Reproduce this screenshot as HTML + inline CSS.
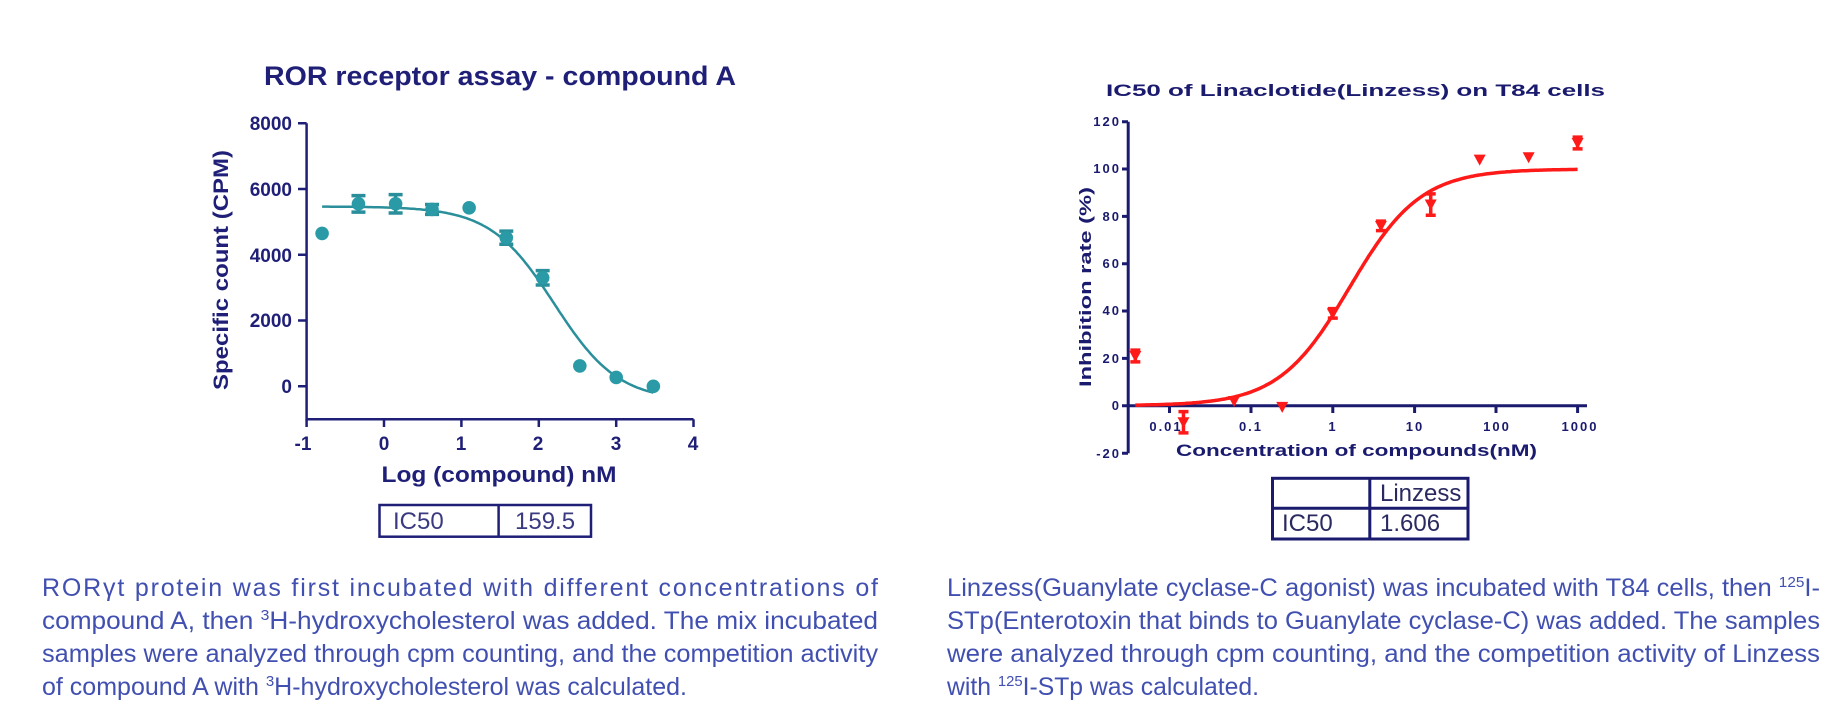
<!DOCTYPE html>
<html><head><meta charset="utf-8"><style>
html,body{margin:0;padding:0;background:#fff;}
svg{display:block;}
</style></head><body>
<svg id="s" width="1839" height="728" xmlns="http://www.w3.org/2000/svg" font-family="Liberation Sans, Arial, sans-serif">
<!-- LEFT CHART -->
<g fill="#1f1f78" font-weight="bold">
<text x="500" y="85" font-size="27" text-anchor="middle" textLength="472" lengthAdjust="spacingAndGlyphs">ROR receptor assay - compound A</text>
<g font-size="19" text-anchor="end">
<text x="292" y="130">8000</text>
<text x="292" y="196">6000</text>
<text x="292" y="262">4000</text>
<text x="292" y="327">2000</text>
<text x="292" y="393">0</text>
</g>
<g font-size="19" text-anchor="middle">
<text x="303" y="450">-1</text>
<text x="384" y="450">0</text>
<text x="461" y="450">1</text>
<text x="538" y="450">2</text>
<text x="616" y="450">3</text>
<text x="693" y="450">4</text>
</g>
<text transform="translate(228,270) rotate(-90)" font-size="21" text-anchor="middle" textLength="240" lengthAdjust="spacingAndGlyphs">Specific count (CPM)</text>
<text x="499" y="482" font-size="22" text-anchor="middle" textLength="235" lengthAdjust="spacingAndGlyphs">Log (compound) nM</text>
</g>
<g stroke="#1f1f78" stroke-width="2.5" fill="none">
<path d="M306.6,123.3 V419.3 H693.5"/>
<path d="M298,123.3 H306.6 M298,189 H306.6 M298,254.8 H306.6 M298,320.5 H306.6 M298,386.3 H306.6"/>
<path d="M306.6,419.3 V427 M384,419.3 V427 M461.4,419.3 V427 M538.8,419.3 V427 M616.2,419.3 V427 M693.5,419.3 V427"/>
<rect x="379.5" y="505" width="211.5" height="31.7"/>
<path d="M498.6,505 V536.7"/>
</g>
<g fill="#3a3a80" font-size="24">
<text x="393" y="529">IC50</text>
<text x="515" y="529">159.5</text>
</g>
<path id="lc" fill="none" stroke="#2a8f9a" stroke-width="2.5"/>
<g id="lp" fill="#2a9ba6" stroke="#2a8f9a"></g>

<!-- RIGHT CHART -->
<g fill="#1a1a6e" font-weight="bold">
<text x="1106" y="96" font-size="17" textLength="499" lengthAdjust="spacingAndGlyphs">IC50  of Linaclotide(Linzess) on T84 cells</text>
<g font-size="13" text-anchor="end" letter-spacing="2">
<text x="1121" y="126">120</text>
<text x="1121" y="173">100</text>
<text x="1121" y="221">80</text>
<text x="1121" y="268">60</text>
<text x="1121" y="315">40</text>
<text x="1121" y="363">20</text>
<text x="1121" y="410">0</text>
<text x="1121" y="458">-20</text>
</g>
<g font-size="13" text-anchor="middle" letter-spacing="2">
<text x="1166" y="431">0.01</text>
<text x="1251" y="431">0.1</text>
<text x="1333" y="431">1</text>
<text x="1415" y="431">10</text>
<text x="1497" y="431">100</text>
<text x="1580" y="431">1000</text>
</g>
<text transform="translate(1091,287) rotate(-90)" font-size="17" text-anchor="middle" textLength="200" lengthAdjust="spacingAndGlyphs">Inhibition rate (%)</text>
<text x="1176" y="456" font-size="17" textLength="361" lengthAdjust="spacingAndGlyphs">Concentration of compounds(nM)</text>
</g>
<g stroke="#1a1a6e" stroke-width="3" fill="none">
<path d="M1128.2,121.7 V453.3"/>
<path d="M1128.2,405.7 H1587"/>
<path d="M1122,121.7 H1128 M1122,169 H1128 M1122,216.4 H1128 M1122,263.7 H1128 M1122,311 H1128 M1122,358.4 H1128 M1122,405.7 H1128 M1122,453.3 H1128"/>
<path d="M1169.5,405.7 V413 M1251,405.7 V413 M1332.8,405.7 V413 M1414.6,405.7 V413 M1496,405.7 V413 M1577.6,405.7 V413"/>
<rect x="1272.5" y="478.3" width="195.5" height="60.7"/>
<path d="M1369.8,478.3 V539 M1272.5,508.3 H1468"/>
</g>
<g fill="#2a2a60" font-size="24">
<text x="1380" y="501">Linzess</text>
<text x="1282" y="531">IC50</text>
<text x="1380" y="531">1.606</text>
</g>
<path id="rc" fill="none" stroke="#ff1a1a" stroke-width="3.5"/>
<g id="rp" fill="#ff1a1a" stroke="#ff1a1a"></g>

<!-- PARAGRAPHS -->
<g fill="#4150b0" font-size="25">
<text x="42" y="596" textLength="836" lengthAdjust="spacing">RORγt protein was first incubated with different concentrations of</text>
<text x="42" y="629" textLength="836" lengthAdjust="spacingAndGlyphs">compound A, then <tspan font-size="15" dy="-9">3</tspan><tspan dy="9">H-hydroxycholesterol was added. The mix incubated</tspan></text>
<text x="42" y="662" textLength="836" lengthAdjust="spacingAndGlyphs">samples were analyzed through cpm counting, and the competition activity</text>
<text x="42" y="695" textLength="645" lengthAdjust="spacingAndGlyphs">of compound A with <tspan font-size="15" dy="-9">3</tspan><tspan dy="9">H-hydroxycholesterol was calculated.</tspan></text>
<text x="947" y="596" textLength="873" lengthAdjust="spacingAndGlyphs">Linzess(Guanylate cyclase-C agonist) was incubated with T84 cells, then <tspan font-size="15" dy="-9">125</tspan><tspan dy="9">I-</tspan></text>
<text x="947" y="629" textLength="873" lengthAdjust="spacingAndGlyphs">STp(Enterotoxin that binds to Guanylate cyclase-C) was added. The samples</text>
<text x="947" y="662" textLength="873" lengthAdjust="spacingAndGlyphs">were analyzed through cpm counting, and the competition activity of Linzess</text>
<text x="947" y="695" textLength="312" lengthAdjust="spacingAndGlyphs">with <tspan font-size="15" dy="-9">125</tspan><tspan dy="9">I-STp was calculated.</tspan></text>
</g>
</svg>
<script>
(function(){
var NS="http://www.w3.org/2000/svg";
function el(p,t,a){var e=document.createElementNS(NS,t);for(var k in a)e.setAttribute(k,a[k]);p.appendChild(e);return e;}
function lx(v){return 306.6+(v+1)*77.4;}
function ly(v){return 386.3-v*65.75/2000;}
var d="";
for(var i=0;i<=200;i++){var x=-0.8+(3.48+0.8)*i/200;var y=-450+5920/(1+Math.pow(10,(x-2.2)*1.05));d+=(i?"L":"M")+lx(x).toFixed(1)+","+ly(y).toFixed(1);}
document.getElementById("lc").setAttribute("d",d);
var lp=document.getElementById("lp");
var L=[[-0.8,4650,0],[-0.33,5550,250],[0.15,5550,280],[0.62,5380,150],[1.1,5430,0],[1.58,4520,200],[2.05,3300,220],[2.53,620,0],[3.0,270,0],[3.48,0,0]];
L.forEach(function(p){var cx=lx(p[0]),cy=ly(p[1]);
 if(p[2]){var t=ly(p[1]+p[2]),b=ly(p[1]-p[2]);el(lp,"path",{d:"M"+cx+","+t+"V"+b+"M"+(cx-7)+","+t+"H"+(cx+7)+"M"+(cx-7)+","+b+"H"+(cx+7),"stroke-width":"3.5",fill:"none"});}
 el(lp,"circle",{cx:cx,cy:cy,r:6.8,"stroke-width":"0"});});
function rx(v){return 1332.8+v*81.6;}
function ry(v){return 405.7-v*47.33/20;}
d="";
for(var i=0;i<=250;i++){var x=-2.42+(3+2.42)*i/250;var y=100/(1+Math.pow(10,(0.206-x)));d+=(i?"L":"M")+rx(x).toFixed(1)+","+ry(y).toFixed(1);}
document.getElementById("rc").setAttribute("d",d);
var rp=document.getElementById("rp");
var R=[[-2.42,21,2.5],[-1.83,-7,4.5],[-1.21,2,0],[-0.62,-0.5,0],[0,39,2],[0.59,76,2],[1.2,85,4.5],[1.8,104,0],[2.4,105,0],[3,111,2.5]];
R.forEach(function(p){var cx=rx(p[0]),cy=ry(p[1]);
 if(p[2]){var t=ry(p[1]+p[2]),b=ry(p[1]-p[2]);el(rp,"path",{d:"M"+cx+","+t+"V"+b+"M"+(cx-5)+","+t+"H"+(cx+5)+"M"+(cx-5)+","+b+"H"+(cx+5),"stroke-width":"3.5",fill:"none"});}
 el(rp,"path",{d:"M"+(cx-6)+","+(cy-5)+"H"+(cx+6)+"L"+cx+","+(cy+6)+"Z","stroke-width":"0"});});
})();
</script>
</body></html>
